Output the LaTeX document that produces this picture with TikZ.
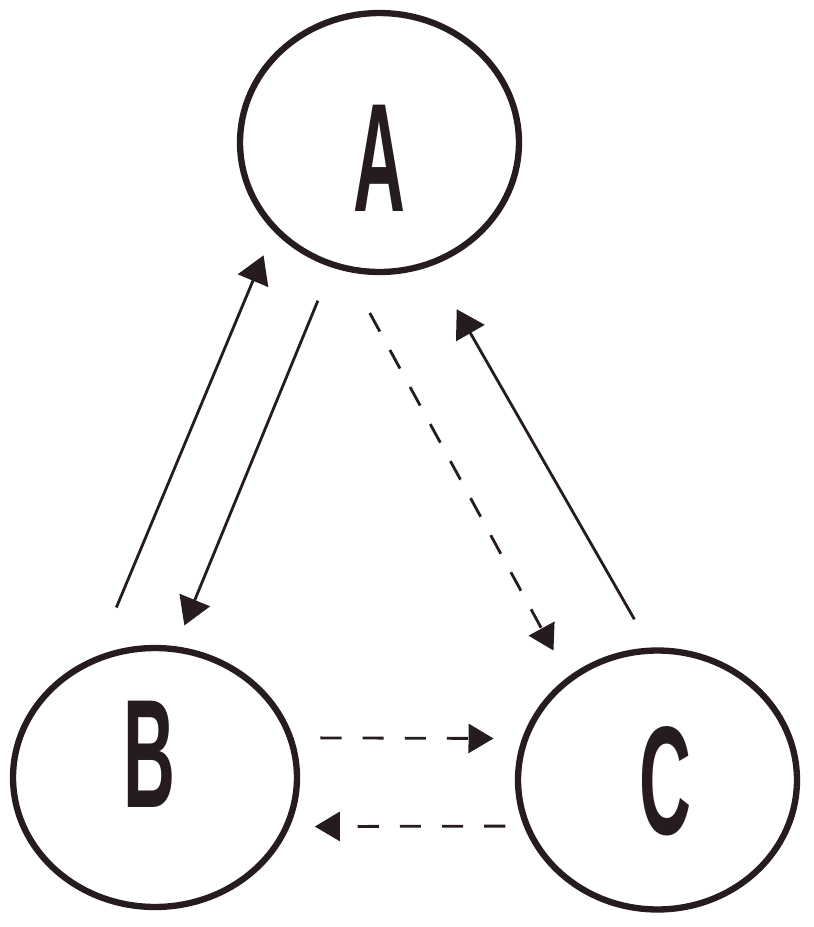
\documentclass[tikz,border=0pt]{standalone}
\usepackage{fontspec}
\setmainfont{Liberation Sans}
\usetikzlibrary{arrows.meta,shapes.geometric}

\definecolor{ink}{RGB}{38,28,32}
% #1 = x offset, #2 = raise, #3 = letter
\newcommand{\bigletter}[3]{\raisebox{#2}[0pt][0pt]{\makebox[0pt]{\hspace{#1}\scalebox{0.465}[1]{\fontsize{88}{88}\selectfont\bfseries #3}}}}

\begin{document}
\begin{tikzpicture}[
  x=0.02cm, y=-0.02cm,
  state/.style={ellipse, draw=ink, line width=3.6pt, inner sep=0pt, text=ink,
                minimum width=5.58cm, minimum height=5.18cm},
  solidarr/.style={-{Triangle[length=5.5mm,width=6.5mm]}, draw=ink, line width=1.6pt},
  dasharr/.style={-{Triangle[length=5mm,width=5.8mm]}, draw=ink, line width=1.6pt,
                  dash pattern=on 12pt off 12pt}
]
\useasboundingbox (0,0) rectangle (814,927);

\node[state] (A) at (379.5,142.5) {\bigletter{0cm}{-1.38cm}{A}};
\node[state, minimum width=5.68cm] (B) at (155,777.5) {\bigletter{-0.24cm}{-0.6cm}{B}};
\node[state] (C) at (657.5,780) {\bigletter{0.32cm}{-1.1cm}{C}};

% A <-> B
\draw[solidarr, shorten <=1.06cm, shorten >=0.52cm] (B.116) -- (A.220);
\draw[solidarr, shorten <=0.72cm, shorten >=0.45cm] (A.249) -- (B.81);
% A <-> C
\draw[dasharr, shorten <=0.94cm, shorten >=0.6cm] (A.256) -- (C.131);
\draw[solidarr, shorten <=0.65cm, shorten >=1.0cm] (C.93.5) -- (A.293.7);
% B <-> C
\draw[dasharr, shorten <=0.54cm, shorten >=0.57cm] (B.16) -- (C.163);
\draw[dasharr, shorten <=0.37cm, shorten >=0.5cm] (C.199.4) -- (B.340);
\end{tikzpicture}
\end{document}
